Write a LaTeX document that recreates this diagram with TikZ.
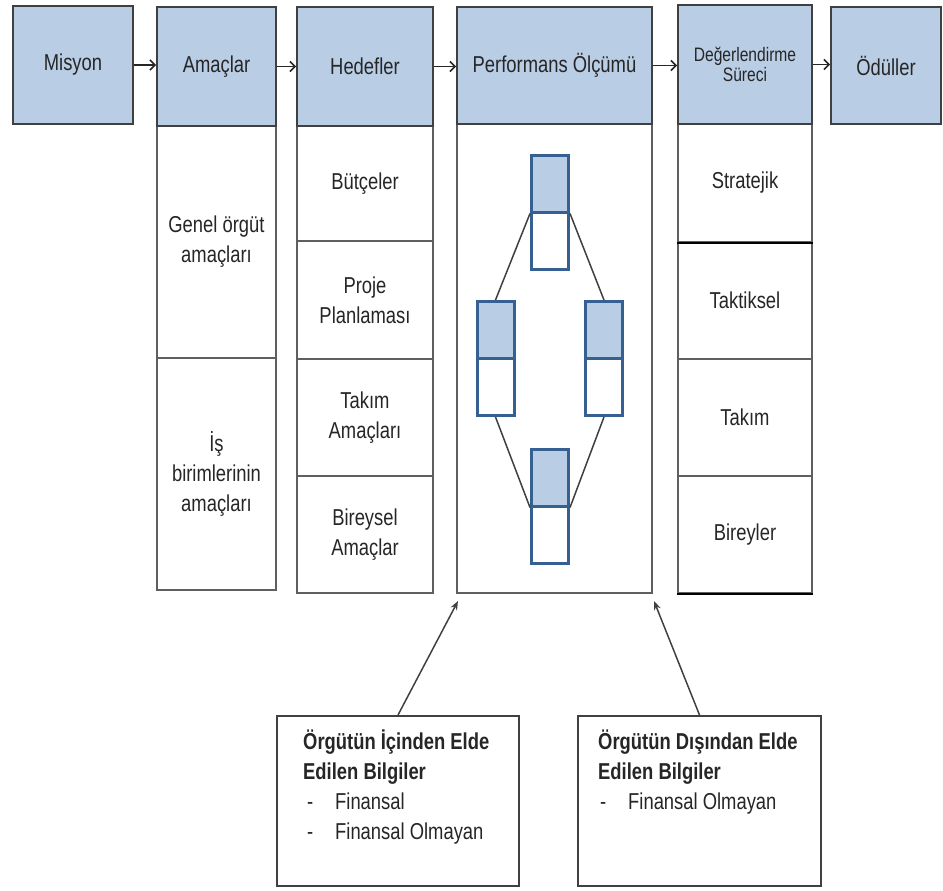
\documentclass[tikz,border=0pt]{standalone}
\usepackage{fontspec}
\setmainfont{Liberation Sans}[FakeStretch=0.8]
\usetikzlibrary{arrows.meta}
\definecolor{hdrfill}{RGB}{185,205,229}
\definecolor{frame}{RGB}{64,64,64}
\definecolor{cellline}{RGB}{95,95,95}
\definecolor{ink}{RGB}{38,38,38}
\definecolor{boxblue}{RGB}{55,96,146}

\begin{document}
\begin{tikzpicture}[x=1pt,y=-1pt,
  txt/.style={font=\fontsize{23}{30}\selectfont, text=ink, align=center},
  hdr/.style={draw=frame, line width=2pt, fill=hdrfill, inner sep=0pt, txt},
  cell/.style={draw=cellline, line width=2pt, fill=white, inner sep=0pt, txt},
  half/.style={draw=boxblue, line width=3pt, minimum width=37pt, minimum height=57pt, inner sep=0pt},
  flow/.style={draw=ink, line width=1.5pt, -{Straight Barb[length=5pt,width=10pt]}},
  feed/.style={draw=frame, line width=1.5pt, -{Stealth[length=9pt,width=7pt]}},
  link/.style={draw=frame, line width=1.5pt},
  infobox/.style={draw=frame, line width=2pt, fill=white, inner sep=0pt},
  infotext/.style={anchor=north west, inner sep=0pt, align=left, text=ink, font=\fontsize{23}{30}\selectfont},
]
\useasboundingbox (0,0) rectangle (943,891);

% columns under the headers
\node[cell, minimum width=119pt, minimum height=232pt] (a1) at (216.5,242) {Genel örgüt\\amaçları};
\node[cell, minimum width=119pt, minimum height=232pt] (a2) at (216.5,474) {İş\\birimlerinin\\amaçları};

\node[cell, minimum width=136pt, minimum height=115pt] (h1) at (365,183.5) {Bütçeler};
\node[cell, minimum width=136pt, minimum height=118pt] (h2) at (365,300) {Proje\\Planlaması};
\node[cell, minimum width=136pt, minimum height=117pt] (h3) at (365,417.5) {Takım\\Amaçları};
\node[cell, minimum width=136pt, minimum height=117pt] (h4) at (365,534.5) {Bireysel\\Amaçlar};

\node[cell, minimum width=195pt, minimum height=469pt] (p1) at (554.5,358.5) {};

\node[cell, minimum width=134pt, minimum height=118pt] (d1) at (745,183) {Stratejik};
\node[cell, minimum width=134pt, minimum height=117pt] (d2) at (745,300.5) {Taktiksel};
\node[cell, minimum width=134pt, minimum height=117pt] (d3) at (745,417.5) {Takım};
\node[cell, minimum width=134pt, minimum height=117pt] (d4) at (745,534.5) {Bireyler};
\draw[black, line width=2.5pt] (d1.south west) -- (d1.south east);
\draw[black, line width=2.5pt] (d4.south west) -- (d4.south east);

% header row
\node[hdr, minimum width=120pt, minimum height=118pt] (mis) at (73,65) {Misyon};
\node[hdr, minimum width=119pt, minimum height=119pt] (ama) at (216.5,66.5) {Amaçlar};
\node[hdr, minimum width=136pt, minimum height=119pt] (hed) at (365,66.5) {Hedefler};
\node[hdr, minimum width=195pt, minimum height=117pt] (per) at (554.5,65.5) {Performans Ölçümü};
\node[hdr, minimum width=134pt, minimum height=119pt, font=\fontsize{19.5}{20}\selectfont] (deg) at (745,64.5) {Değerlendirme\\Süreci};
\node[hdr, minimum width=110pt, minimum height=117pt] (odu) at (886,65.5) {Ödüller};

\draw[flow] (mis.east) -- (mis.east -| ama.west);
\draw[flow] (ama.east) -- (ama.east -| hed.west);
\draw[flow] (hed.east) -- (hed.east -| per.west);
\draw[flow] (per.east) -- (per.east -| deg.west);
\draw[flow] (deg.east) -- (deg.east -| odu.west);

% measurement network inside the performance column
\node[half, fill=hdrfill] (ta) at (550,183.5) {};
\node[half, fill=white]   (tb) at (550,240.5) {};
\node[half, fill=hdrfill] (la) at (495.5,330) {};
\node[half, fill=white]   (lb) at (495.5,387) {};
\node[half, fill=hdrfill] (ra) at (604,330) {};
\node[half, fill=white]   (rb) at (604,387) {};
\node[half, fill=hdrfill] (ba) at (550,477.5) {};
\node[half, fill=white]   (bb) at (550,534.5) {};

\draw[link] (ta.south west) -- (la.north);
\draw[link] (ta.south east) -- (ra.north);
\draw[link] (lb.south) -- (ba.south west);
\draw[link] (rb.south) -- (ba.south east);

% information sources
\node[infobox, minimum width=242pt, minimum height=170pt] (icbox) at (398,801) {};
\node[infobox, minimum width=243pt, minimum height=170pt] (dsbox) at (699.5,801) {};

\node[infotext] (ictext) at (303,730) {\textbf{Örgütün İçinden Elde}\\\textbf{Edilen Bilgiler}\\\makebox[32pt][l]{\hspace{4pt}-}Finansal\\\makebox[32pt][l]{\hspace{4pt}-}Finansal Olmayan};
\node[infotext] (dstext) at (598,730) {\textbf{Örgütün Dışından Elde}\\\textbf{Edilen Bilgiler}\\\makebox[30pt][l]{\hspace{2pt}-}Finansal Olmayan};

\coordinate (tipL) at (458,601);
\coordinate (tipR) at (654,601);
\draw[feed] (icbox.north) -- (tipL);
\draw[feed] (dsbox.north) -- (tipR);

\end{tikzpicture}
\end{document}
